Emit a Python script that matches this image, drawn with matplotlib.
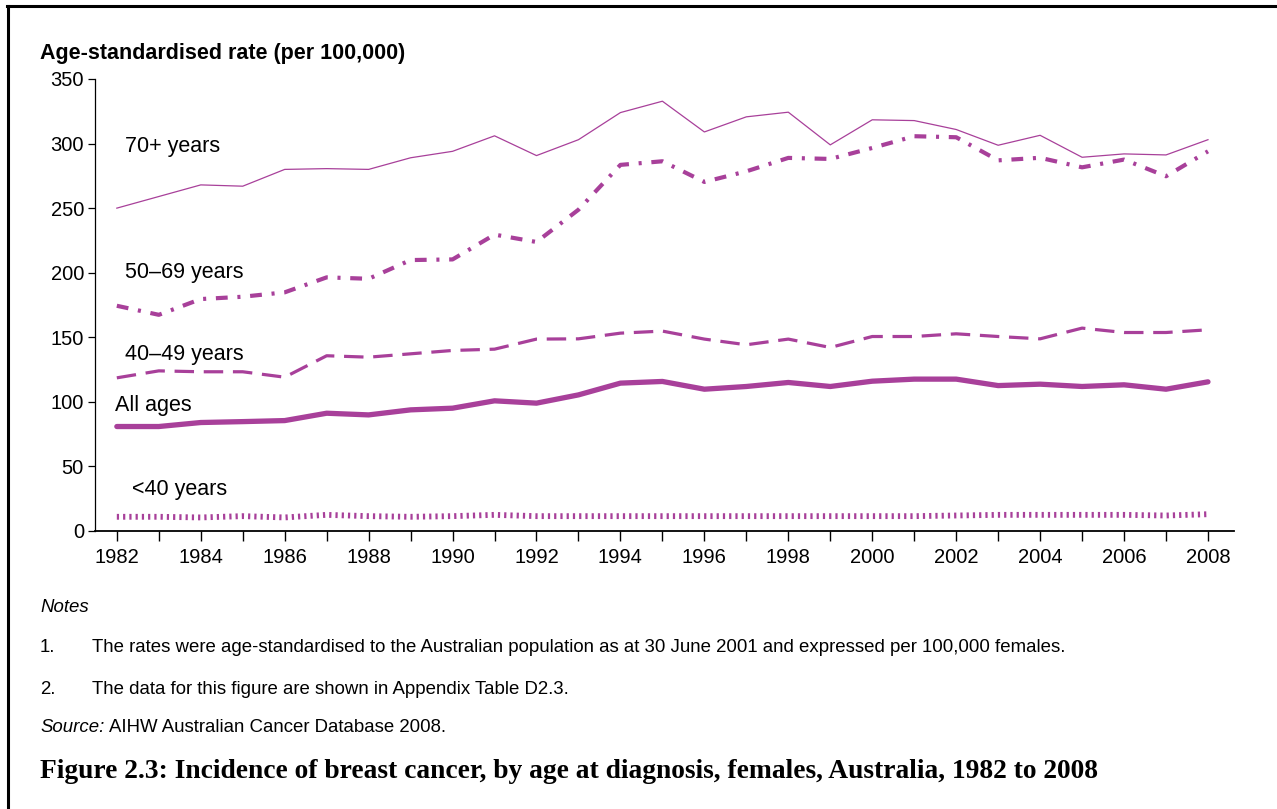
import matplotlib
matplotlib.use('Agg')
import matplotlib.pyplot as plt
from matplotlib.lines import Line2D

# data
years = list(range(1982, 2009))
rate_70plus = [250, 259, 268, 267, 280, 280.6, 280, 289, 294, 306, 290.7, 303, 324, 332.8,
               309, 320.7, 324.3, 299, 318.4, 317.8, 310.9, 298.7, 306.4, 289.4, 292, 291.2, 303]
rate_50_69 = [174.4, 167.4, 179.6, 181.4, 184.8, 196.4, 195.3, 209.8, 210.3, 229.5, 223.8, 248.8, 283.5, 286.3,
              270.3, 278.5, 288.9, 288.1, 296.6, 305.7, 304.9, 287, 289, 281.6, 287.6, 274.7, 294]
rate_40_49 = [118.6, 124, 123.3, 123.3, 119.1, 135.7, 134.6, 137.2, 139.8, 140.8, 148.6, 148.8, 153.2, 154.8,
              148.6, 144.2, 148.6, 142.1, 150.6, 150.6, 152.7, 150.6, 148.8, 157.1, 153.7, 153.7, 155.8]
rate_all = [80.9, 80.9, 84, 84.7, 85.5, 91.2, 89.9, 93.8, 95.1, 100.8, 99, 105.4, 114.5, 115.8,
            109.8, 111.9, 115, 111.9, 116, 117.6, 117.6, 112.6, 113.7, 111.9, 113.2, 109.8, 115.5]
rate_under40 = [11, 11, 10.5, 11.5, 10.5, 12.5, 11.5, 11, 11.5, 12.5, 11.5, 11.5, 11.5, 11.5,
                11.5, 11.5, 11.5, 11.5, 11.5, 11.5, 12, 12.5, 12.5, 12.5, 12.5, 12, 13]

x_labels = [str(y) for y in range(1982, 2009, 2)]
y_ticks = [0, 50, 100, 150, 200, 250, 300, 350]

series_labels = ['70+ years', '50\u201369 years', '40\u201349 years', 'All ages', '<40 years']
label_pos = [(1982.19, 297.7), (1982.19, 200), (1982.19, 137), (1981.95, 97), (1982.36, 31.8)]

notes = ['1.', '2.']
note_texts = ['The rates were age-standardised to the Australian population as at 30 June 2001 '
              'and expressed per 100,000 females.',
              'The data for this figure are shown in Appendix Table D2.3.']


def main():
    plt.rcParams['font.family'] = ['Liberation Sans', 'DejaVu Sans']
    plt.rcParams['lines.scale_dashes'] = False
    colour = '#A8409A'

    fig = plt.figure(figsize=(12.77, 8.09), dpi=100)
    ax = fig.add_axes([95 / 1277, 1 - 531 / 809, (1234 - 95) / 1277, (531 - 79) / 809])

    # the five series
    ax.plot(years, rate_70plus, color=colour, lw=0.9)
    ax.plot(years, rate_50_69, color=colour, lw=3.0, dashes=(8.5, 7, 2.2, 7))
    ax.plot(years, rate_40_49, color=colour, lw=2.3, dashes=(14, 7))
    ax.plot(years, rate_all, color=colour, lw=3.8, solid_capstyle='round')
    ax.plot(years, rate_under40, color=colour, lw=4.2, dashes=(1.6, 2.9))

    for text, (xp, yp) in zip(series_labels, label_pos):
        ax.text(xp, yp, text, fontsize=15.5, va='center', ha='left')

    ax.set_xlim(1981.48, 2008.62)
    ax.set_ylim(0, 350)
    ax.set_xticks(years, minor=True)
    ax.set_xticks(range(1982, 2009, 2))
    ax.set_xticklabels(x_labels, fontsize=14.5)
    ax.set_yticks(y_ticks)
    ax.set_yticklabels([str(v) for v in y_ticks], fontsize=14.5)
    ax.tick_params(axis='x', which='both', direction='out', length=7, width=1.0, pad=5)
    ax.tick_params(axis='y', direction='out', length=5, width=0.9, pad=3)
    ax.spines['top'].set_visible(False)
    ax.spines['right'].set_visible(False)
    ax.spines['left'].set_linewidth(0.9)
    ax.spines['bottom'].set_linewidth(1.3)

    fig.text(40 / 1277, 1 - 53 / 809, 'Age-standardised rate (per 100,000)',
             fontsize=15.5, fontweight='bold', va='center', ha='left')

    # notes and source
    fig.text(40 / 1277, 1 - 607 / 809, 'Notes', fontsize=13.4, style='italic', va='center')
    for i, (num, txt) in enumerate(zip(notes, note_texts)):
        yy = 1 - (648 + 41 * i) / 809
        fig.text(40 / 1277, yy, num, fontsize=13.4, va='center')
        fig.text(92 / 1277, yy, txt, fontsize=13.4, va='center')
    src = fig.text(40 / 1277, 1 - 728 / 809, 'Source:', fontsize=13.4, style='italic', va='center')
    # put the rest of the source line just after the italic word
    renderer = fig.canvas.get_renderer()
    src_end = src.get_window_extent(renderer).x1
    fig.text((src_end + 5) / 1277, 1 - 728 / 809, 'AIHW Australian Cancer Database 2008.',
             fontsize=13.4, va='center')

    fig.text(40 / 1277, 1 - 771 / 809,
             'Figure 2.3: Incidence of breast cancer, by age at diagnosis, females, Australia, 1982 to 2008',
             fontsize=19.8, fontweight='bold', family=['Liberation Serif', 'DejaVu Serif'], va='center')

    # page frame (left and top edges)
    fig.add_artist(Line2D([8 / 1277, 8 / 1277], [0, 1 - 6 / 809], color='black', lw=2.2,
                          transform=fig.transFigure))
    fig.add_artist(Line2D([7 / 1277, 1], [1 - 6 / 809, 1 - 6 / 809], color='black', lw=2.2,
                          transform=fig.transFigure))

    fig.savefig('out.png', dpi=100)


if __name__ == '__main__':
    main()
